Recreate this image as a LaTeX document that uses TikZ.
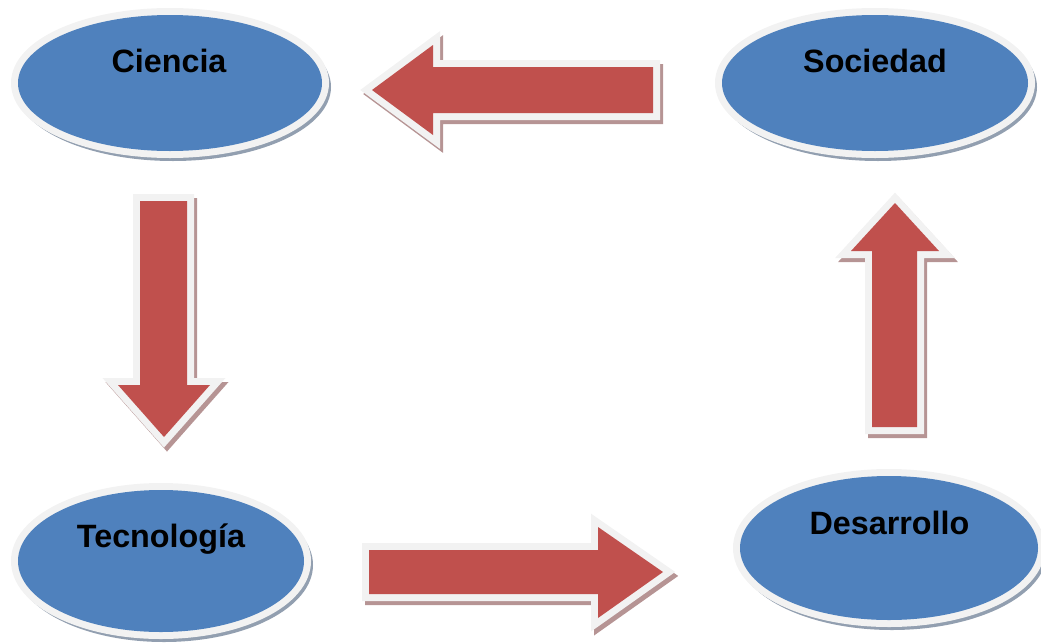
\documentclass[tikz,border=0pt]{standalone}
\usepackage{fontspec}
\setmainfont{Liberation Sans}
\usetikzlibrary{shapes.geometric,calc}
\definecolor{blueF}{HTML}{4F81BD}
\definecolor{redF}{HTML}{C0504D}
\definecolor{rim}{HTML}{F2F2F2}
\definecolor{shadB}{HTML}{929FB0}
\definecolor{shadR}{HTML}{B69494}
\tikzset{
  oval/.style={ellipse, inner sep=0pt, fill=blueF, preaction={draw=rim, line width=14pt}},
  ovalshadow/.style={fill=shadB},
  lbl/.style={font=\fontsize{32.3}{38}\selectfont\bfseries, anchor=base, inner sep=0pt},
  blockarrow/.style={fill=redF, preaction={draw=rim, line width=14pt, line join=miter}},
  arrowshadow/.style={draw=shadR, fill=shadR, line width=14pt, line join=miter},
}
\begin{document}
\begin{tikzpicture}[x=1pt,y=-1pt]
\useasboundingbox (0,0) rectangle (1041,643);
\clip (0,0) rectangle (1041,643);
% ellipse shadows
\fill[ovalshadow] (173,87) ellipse [x radius=158pt, y radius=74pt];
\fill[ovalshadow] (878,87) ellipse [x radius=159pt, y radius=74pt];
\fill[ovalshadow] (164,565) ellipse [x radius=149pt, y radius=77pt];
\fill[ovalshadow] (892,552) ellipse [x radius=155pt, y radius=78pt];
% ellipses
\node[oval, minimum width=304pt, minimum height=136pt] (cien) at (170,83) {};
\node[oval, minimum width=306pt, minimum height=136pt] (soci) at (875,83) {};
\node[oval, minimum width=286pt, minimum height=142pt] (tecn) at (161,561) {};
\node[oval, minimum width=298pt, minimum height=144pt] (desa) at (889,548) {};
% labels
\node[lbl] (cienT) at (169,72) {Ciencia};
\node[lbl] (sociT) at (875,72) {Sociedad};
\node[lbl] (tecnT) at (161,547) {Tecnología};
\node[lbl] (desaT) at (889.5,534) {Desarrollo};
% arrow: Sociedad -> Ciencia (left)
\draw[arrowshadow, shift={(3,4)}] (372,90) -- (433,45) -- (433,67) -- (653,67) -- (653,113) -- (433,113) -- (433,135) -- cycle;
\fill[blockarrow] (372,90) -- (433,45) -- (433,67) -- (653,67) -- (653,113) -- (433,113) -- (433,135) -- cycle;
% arrow: Ciencia -> Tecnologia (down)
\draw[arrowshadow, shift={(3,4)}] (140,201) -- (187,201) -- (187,385) -- (210,385) -- (164,437) -- (118,385) -- (140,385) -- cycle;
\fill[blockarrow] (140,201) -- (187,201) -- (187,385) -- (210,385) -- (164,437) -- (118,385) -- (140,385) -- cycle;
% arrow: Tecnologia -> Desarrollo (right)
\draw[arrowshadow, shift={(3,4)}] (369,550) -- (598,550) -- (598,527) -- (663,572) -- (598,618) -- (598,594) -- (369,594) -- cycle;
\fill[blockarrow] (369,550) -- (598,550) -- (598,527) -- (663,572) -- (598,618) -- (598,594) -- (369,594) -- cycle;
% arrow: Desarrollo -> Sociedad (up)
\draw[arrowshadow, shift={(3,4)}] (872,427) -- (872,251) -- (851,251) -- (895,203) -- (939,251) -- (917,251) -- (917,427) -- cycle;
\fill[blockarrow] (872,427) -- (872,251) -- (851,251) -- (895,203) -- (939,251) -- (917,251) -- (917,427) -- cycle;
\end{tikzpicture}
\end{document}
